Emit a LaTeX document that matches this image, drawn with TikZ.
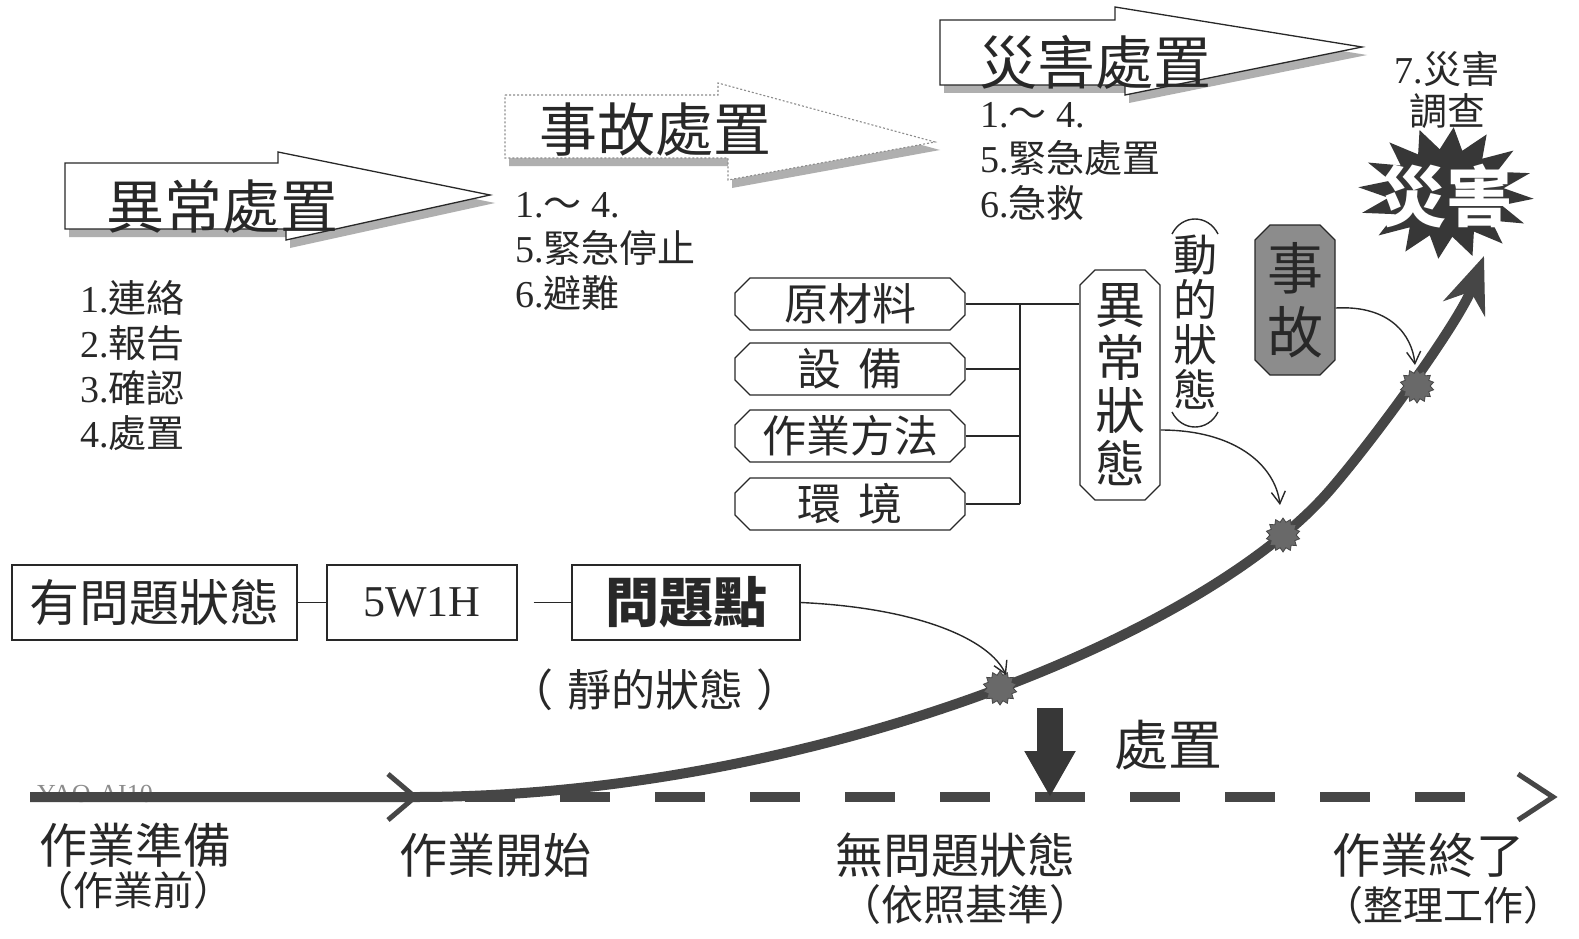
\documentclass[tikz,border=0pt]{standalone}
\usepackage{fontspec}
\setmainfont{Liberation Serif}
\newfontfamily\cjk{Noto Sans CJK TC}
\usetikzlibrary{shapes.misc,shapes.geometric,arrows.meta}
\definecolor{ink}{RGB}{40,40,40}
\definecolor{curvegray}{RGB}{70,70,70}
\definecolor{stargray}{RGB}{55,55,55}
\definecolor{blobgray}{RGB}{105,105,105}
\definecolor{accgray}{RGB}{140,140,140}
\definecolor{shadowgray}{RGB}{175,175,175}
\newcommand\myfs[2]{\fontsize{#1}{#2}\selectfont}
\begin{document}
\begin{tikzpicture}[x=1pt,y=-1pt,
  every node/.style={inner sep=0pt, text=ink},
  arrowtext/.style={font=\cjk\myfs{58}{60}},
  listtext/.style={anchor=north west, align=left, font=\myfs{38}{45}},
  octbox/.style={chamfered rectangle, chamfered rectangle xsep=12pt, draw=ink, line width=1.3pt,
     minimum width=230pt, minimum height=52pt, font=\cjk\myfs{44}{46}},
  vbox/.style={chamfered rectangle, chamfered rectangle xsep=12pt, draw=ink, line width=1.3pt,
     minimum width=80pt, align=center},
  rectbox/.style={draw=ink, line width=1.3pt, minimum height=75pt},
  labeltext/.style={font=\cjk\myfs{48}{50}, align=center},
  thin/.style={line width=1.4pt, ink},
  thinarrow/.style={line width=1.4pt, ink, -{Straight Barb[length=12pt,width=14pt]}},
  blob/.style={star, star points=14, star point ratio=1.3, minimum size=34pt, fill=blobgray, draw=curvegray, line width=0.8pt}
]
\useasboundingbox (0,0) rectangle (1579,939);
\fill[white] (0,0) rectangle (1579,939);

% ---- block arrow 1
\fill[shadowgray] (69,171) -- (283,171) -- (283,160) -- (495,203) -- (290,248) -- (290,237) -- (69,237) -- cycle;
\filldraw[fill=white, draw=ink, line width=1.3pt] (65,163) -- (278,163) -- (278,152) -- (490,195) -- (286,240) -- (286,229) -- (65,229) -- cycle;
\node[arrowtext] (t1) at (222,207) {異常處置};

% ---- block arrow 2 (dotted)
\fill[shadowgray] (509,103) -- (722,103) -- (722,91) -- (940,150) -- (732,188) -- (732,166) -- (509,166) -- cycle;
\filldraw[fill=white, draw=accgray, line width=1.1pt, dash pattern=on 2pt off 2pt] (505,95) -- (718,95) -- (718,83) -- (935,142) -- (728,180) -- (728,158) -- (505,158) -- cycle;
\node[arrowtext] (t2) at (655,130) {事故處置};

% ---- block arrow 3
\fill[shadowgray] (944,28) -- (1119,28) -- (1119,15) -- (1367,55) -- (1129,103) -- (1129,93) -- (944,93) -- cycle;
\filldraw[fill=white, draw=ink, line width=1.3pt] (940,20) -- (1115,20) -- (1115,7) -- (1362,47) -- (1125,95) -- (1125,85) -- (940,85) -- cycle;
\node[arrowtext] (t3) at (1095,62) {災害處置};

% ---- lists
\node[listtext] (l1) at (80,280) {1.{\cjk 連絡}\\2.{\cjk 報告}\\3.{\cjk 確認}\\4.{\cjk 處置}};
\node[listtext] (l2) at (515,192) {1.{\cjk ～} 4.\\5.{\cjk 緊急停止}\\6.{\cjk 避難}};
\node[listtext] (l3) at (980,102) {1.{\cjk ～} 4.\\5.{\cjk 緊急處置}\\6.{\cjk 急救}};
\node[font=\myfs{38}{42}, align=center] (l4) at (1447,90) {7.{\cjk 災害}\\{\cjk 調查}};

% ---- disaster star
\fill[stargray] plot[samples at={0,...,31}, variable=\i]
  ({1446+(mod(\i,2)==0 ? 88 : 58)*cos(\i*11.25+5)}, {193+(mod(\i,2)==0 ? 66 : 44)*sin(\i*11.25+5)}) -- cycle;
\node[font=\cjk\bfseries\myfs{66}{66}, text=white] (dis) at (1446,196) {災害};

% ---- factor boxes
\node[octbox] (raw) at (850,304) {原材料};
\node[octbox] (eq) at (850,369) {設\hspace{0.4em}備};
\node[octbox] (meth) at (850,436) {作業方法};
\node[octbox] (env) at (850,504) {環\hspace{0.4em}境};

\node[vbox, minimum height=230pt, font=\cjk\myfs{50}{53}] (abn) at (1120,385) {異\\常\\狀\\態};
\node[font=\cjk\myfs{44}{45}, align=center] (dyn) at (1195,322) {動\\的\\狀\\態};
\draw[thin] (1172,234) .. controls (1182,214) and (1208,214) .. (1218,234);
\draw[thin] (1172,412) .. controls (1182,432) and (1208,432) .. (1218,412);
\node[vbox, minimum height=150pt, fill=accgray, font=\cjk\myfs{56}{64}] (acc) at (1295,300) {事\\故};

\coordinate (bt) at (1020,304);
\draw[thin] (raw.east) -- (raw.east -| abn.west);
\draw[thin] (eq.east) -- (eq.east -| bt);
\draw[thin] (meth.east) -- (meth.east -| bt);
\draw[thin] (env.east) -- (env.east -| bt);
\draw[thin] (bt) -- (env.east -| bt);

% ---- bottom boxes
\node[rectbox, minimum width=285pt, font=\cjk\myfs{50}{50}] (prob) at (154.5,602.5) {有問題狀態};
\node[rectbox, minimum width=190pt, font=\myfs{44}{44}] (w5) at (422,602.5) {5W1H};
\node[rectbox, minimum width=228pt, font=\cjk\bfseries\myfs{54}{54}] (pt) at (686,602.5) {問題點};
\draw[thin] (prob.east) -- (w5.west);
\draw[thin] ([xshift=16pt]w5.east) -- (pt.west);
\node[font=\cjk\myfs{44}{44}] (static) at (655,690) {（\hspace{0.3em}靜的狀態\hspace{0.3em}）};

% ---- watermark
\node[font=\myfs{26}{26}, text=accgray] (wm) at (95,794) {YAO-AI10};

% ---- timeline
\coordinate (s0) at (30,797);
\coordinate (s1) at (415,797);
\coordinate (c3) at (1330,490);
\coordinate (tip) at (1484,256);
\coordinate (d0) at (465,797);
\coordinate (d1) at (1468,797);
\coordinate (dend) at (1553,797);
\draw[line width=10pt, curvegray, dash pattern=on 50pt off 45pt] (d0) -- (d1);
\draw[line width=5pt, curvegray] (1518,774) -- (dend) -- (1518,820);
\draw[line width=10pt, curvegray, -{Stealth[length=56pt,width=44pt,inset=18pt]}]
  (s0) -- (s1) .. controls (800,797) and (1200,640) .. (c3) .. controls (1380,432) and (1460,320) .. (tip);
\draw[line width=5pt, curvegray] (388,774) -- (s1) -- (388,820);

\node[blob] (b1) at (1000,688) {};
\node[blob] (b2) at (1283,535) {};
\node[blob] (b3) at (1417,386) {};

% ---- thin arrows
\draw[thinarrow] (abn.east |- 0,430) .. controls (1235,430) and (1275,465) .. (1280,505);
\draw[thinarrow] (acc.east |- 0,308) .. controls (1390,305) and (1412,335) .. (1415,365);
\draw[thinarrow] (pt.east) .. controls (920,608) and (990,640) .. (1006,675);

% ---- treatment arrow
\coordinate (dtop) at (1050,708);
\coordinate (dbot) at (1050,797);
\draw[line width=26pt, stargray, -{Triangle[length=46pt,width=48pt]}] (dtop) -- (dbot);
\node[font=\cjk\myfs{54}{54}] (treat) at (1168,745) {處置};

% ---- bottom labels
\node[labeltext] (prep) at (135,845) {作業準備};
\node[font=\cjk\myfs{40}{40}] (prep2) at (133,890) {（作業前）};
\node[labeltext] (start) at (495,855) {作業開始};
\node[labeltext] (ok) at (955,855) {無問題狀態};
\node[font=\cjk\myfs{42}{42}] (ok2) at (965,905) {（依照基準）};
\node[labeltext] (end) at (1428,855) {作業終了};
\node[font=\cjk\myfs{40}{40}] (end2) at (1443,905) {（整理工作）};
\end{tikzpicture}
\end{document}
